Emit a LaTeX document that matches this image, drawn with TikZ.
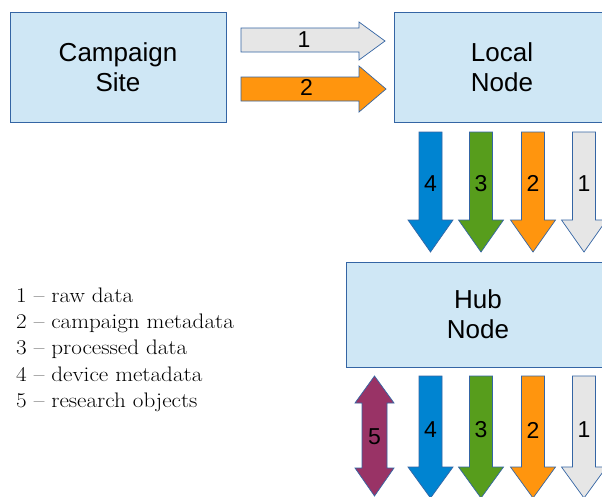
\documentclass[tikz,border=0pt]{standalone}
\usepackage{fontspec}
\newfontfamily\arialf{Liberation Sans}
\definecolor{boxfill}{HTML}{CFE7F5}
\definecolor{boxline}{HTML}{3465A4}
\definecolor{agrey}{HTML}{E6E6E6}
\definecolor{aorange}{HTML}{FF950E}
\definecolor{agreen}{HTML}{579D1C}
\definecolor{ablue}{HTML}{0084D1}
\definecolor{apurple}{HTML}{993366}
% #1 name, #2 centre x, #3 top y, #4 head y, #5 tip y, #6 colour, #7 label, #8 label y
\newcommand\myDownArrow[8]{%
  \draw[arrowline, fill=#6] (#2-11.5,#3) -- (#2+11.5,#3) -- (#2+11.5,#4) -- (#2+22.5,#4)
     -- (#2,#5) -- (#2-22.5,#4) -- (#2-11.5,#4) -- cycle;
  \node[numlabel] (#1) at (#2,#8) {#7};}
\begin{document}
\begin{tikzpicture}[x=1pt,y=-1pt,
  blockbox/.style={draw=boxline, fill=boxfill, line width=0.8pt, inner sep=0pt,
    font=\arialf\fontsize{26}{30}\selectfont, align=center},
  arrowline/.style={draw=boxline, line width=0.7pt, line join=miter},
  numlabel/.style={font=\arialf\fontsize{23}{26}\selectfont, inner sep=0pt, text=black},
  legendtext/.style={font=\fontsize{21}{26.4}\selectfont, inner sep=0pt, anchor=base west}]
\useasboundingbox (0,0) rectangle (602,496);
\clip (0,0) rectangle (602,496);
\fill[white] (0,0) rectangle (602,496);

% boxes
\node[blockbox, minimum width=216pt, minimum height=110pt] (site) at (118,67) {Campaign\\Site};
\node[blockbox, minimum width=216pt, minimum height=110pt] (local) at (502,67) {Local\\Node};
\node[blockbox, minimum width=264pt, minimum height=105pt] (hub) at (478,314.5) {Hub\\Node};

% horizontal arrows
\draw[arrowline, fill=agrey] (241,28) -- (359,28) -- (359,22) -- (385,41) -- (359,60)
  -- (359,52) -- (241,52) -- cycle;
\node[numlabel] (h1) at (304,39.5) {1};
\draw[arrowline, fill=aorange] (241,77) -- (359,77) -- (359,66) -- (386,89) -- (359,112)
  -- (359,101) -- (241,101) -- cycle;
\node[numlabel] (h2) at (306.5,87) {2};

% arrows local -> hub
\myDownArrow{t4}{430.5}{132}{220}{252}{ablue}{4}{183.5}
\myDownArrow{t3}{481}{132}{220}{252}{agreen}{3}{183.5}
\myDownArrow{t2}{533}{132}{220}{252}{aorange}{2}{183.5}
\myDownArrow{t1}{584}{132}{220}{252}{agrey}{1}{183.5}

% arrows below hub
\draw[arrowline, fill=apurple] (374.5,376) -- (394,403) -- (387,403) -- (387,468) -- (394,468)
  -- (374.5,496) -- (355,468) -- (362,468) -- (362,403) -- (355,403) -- cycle;
\node[numlabel] (b5) at (374.5,436.5) {5};
\myDownArrow{b4}{430.5}{376}{467}{498}{ablue}{4}{430}
\myDownArrow{b3}{481}{376}{467}{498}{agreen}{3}{430}
\myDownArrow{b2}{533}{376}{467}{498}{aorange}{2}{430}
\myDownArrow{b1}{584}{376}{467}{498}{agrey}{1}{430}

% legend
\foreach \i/\t in {1/raw data, 2/campaign metadata, 3/processed data, 4/device metadata, 5/research objects}
  \node[legendtext] (leg\i) at (16,{302+26.4*(\i-1)}) {\scalebox{1.1}[1]{\i\ -- \t}};
\end{tikzpicture}
\end{document}
